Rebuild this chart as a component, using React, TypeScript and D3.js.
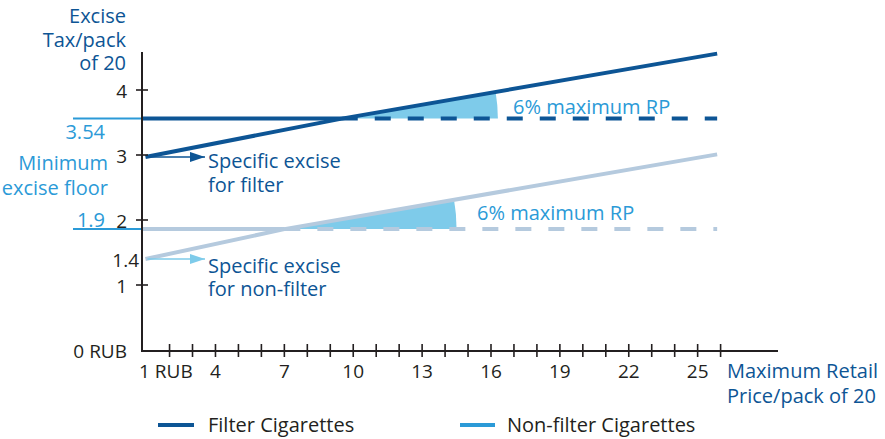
import React from 'react';
import * as d3 from 'd3';

// valores
const filterPrice = [0.95, 9.5, 25.85]; // RUB
const filterExcise = [2.97, 3.56, 4.56];
const nonFilterPrice = [0.95, 7.0, 25.85];
const nonFilterExcise = [1.4, 1.86, 3.01];
const floorValues = [3.56, 1.86];
const floorLabels = ['3.54', '1.9'];
const wedgeReach = [16.3, 14.5]; // onde termina o arco de 6%
const yTicks = [1, 2, 3, 4];
const xTicks = d3.range(2, 27);
const xLabels = [4, 7, 10, 13, 16, 19, 22, 25];

const DARK = '#0d5595';
const PALE = '#b5cade';
const ACCENT = '#2b9ad7';
const WEDGE = '#7ecbea';
const INK = '#231f20';
const FONT = '"Open Sans", sans-serif';

export default function App() {
  const width = 885;
  const height = 439;

  const x = d3.scaleLinear().domain([0.8, 28.5]).range([142, 778]);
  const y = d3.scaleLinear().domain([0, 4.6]).range([350, 51]);
  const x0 = x(0.8);
  const y0 = y(0);

  const series = [
    { price: filterPrice, values: filterExcise, color: DARK, floor: floorValues[0], reach: wedgeReach[0], arrow: DARK },
    { price: nonFilterPrice, values: nonFilterExcise, color: PALE, floor: floorValues[1], reach: wedgeReach[1], arrow: WEDGE },
  ];

  return (
    <svg width={width} height={height} style={{ position: 'absolute', left: 0, top: 0 }} fontFamily={FONT}>
      <defs>
        <marker id="headDark" viewBox="0 0 15 10" refX={15} refY={5} markerWidth={15} markerHeight={10} markerUnits="userSpaceOnUse" orient="auto">
          <path d="M0,0L15,5L0,10Z" fill={DARK} />
        </marker>
        <marker id="headLight" viewBox="0 0 15 10" refX={15} refY={5} markerWidth={15} markerHeight={10} markerUnits="userSpaceOnUse" orient="auto">
          <path d="M0,0L15,5L0,10Z" fill={WEDGE} />
        </marker>
      </defs>

      {series.map((s, i) => {
        const line = d3
          .line<number>()
          .x((_, k) => x(s.price[k]))
          .y((d) => y(d));
        // segmento onde a linha cruza o piso
        let k = 0;
        while (k < s.values.length - 2 && s.values[k + 1] < s.floor) k++;
        const t = (s.floor - s.values[k]) / (s.values[k + 1] - s.values[k]);
        const crossX = s.price[k] + t * (s.price[k + 1] - s.price[k]);
        const cx = x(crossX);
        const cy = y(s.floor);
        const last = s.values.length - 1;
        const theta = Math.atan2(cy - y(s.values[last]), x(s.price[last]) - cx);
        const r = x(s.reach) - cx;
        const arc = d3.arc()({ innerRadius: 0, outerRadius: r, startAngle: Math.PI / 2 - theta, endAngle: Math.PI / 2 } as any);
        const endX = x(s.price[last]);
        return (
          <g key={i}>
            <path d={arc || ''} transform={`translate(${cx},${cy})`} fill={WEDGE} />
            <line x1={73} x2={x0} y1={cy} y2={cy} stroke={ACCENT} strokeWidth={2} />
            <line x1={x0} x2={cx} y1={cy} y2={cy} stroke={s.color} strokeWidth={4} />
            <line x1={cx} x2={endX} y1={cy} y2={cy} stroke={s.color} strokeWidth={4} strokeDasharray="16 17" />
            <path d={line(s.values) || ''} fill="none" stroke={s.color} strokeWidth={4} />
            <line x1={x(s.price[0]) + 2} x2={205} y1={y(s.values[0])} y2={y(s.values[0])} stroke={s.arrow} strokeWidth={1.5} markerEnd={`url(#${i === 0 ? 'headDark' : 'headLight'})`} />
          </g>
        );
      })}

      {/* eixos */}
      <line x1={x0} x2={x0} y1={52} y2={y0 + 1} stroke={INK} strokeWidth={2} />
      <line x1={x0 - 1} x2={778} y1={y0 + 1} y2={y0 + 1} stroke={INK} strokeWidth={2} />
      {yTicks.map((t) => (
        <line key={t} x1={x0 - 6} x2={x0 + 6} y1={y(t)} y2={y(t)} stroke={INK} strokeWidth={1.6} />
      ))}
      {xTicks.map((t) => (
        <line key={t} x1={x(t)} x2={x(t)} y1={y0 - 6} y2={y0 + 7} stroke={INK} strokeWidth={1.6} />
      ))}

      <g fill={INK} fontSize={19}>
        {yTicks.map((t) => (
          <text key={t} x={127} y={y(t)} dy="0.4em" textAnchor="end">{t}</text>
        ))}
        <text x={139} y={y(nonFilterExcise[0])} dy="0.4em" textAnchor="end">{nonFilterExcise[0]}</text>
        <text x={127} y={y0} dy="0.4em" textAnchor="end">0 RUB</text>
        <text x={x0 - 3} y={378}>1 RUB</text>
        {xLabels.map((t) => (
          <text key={t} x={x(t)} y={378} textAnchor="middle">{t}</text>
        ))}
      </g>

      {/* titulos dos eixos e notas */}
      <g fill={DARK} fontSize={20}>
        <text x={126} y={23} textAnchor="end">Excise</text>
        <text x={126} y={47} textAnchor="end">Tax/pack</text>
        <text x={126} y={70} textAnchor="end">of 20</text>
        <text x={727} y={378}>Maximum Retail</text>
        <text x={727} y={403}>Price/pack of 20</text>
        <text x={208} y={168}>Specific excise</text>
        <text x={208} y={192}>for filter</text>
        <text x={208} y={273}>Specific excise</text>
        <text x={208} y={296}>for non-filter</text>
      </g>

      <g fill={ACCENT} fontSize={20}>
        <text x={105} y={139} textAnchor="end">{floorLabels[0]}</text>
        <text x={108} y={170} textAnchor="end">Minimum</text>
        <text x={108} y={195} textAnchor="end">excise floor</text>
        <text x={105} y={227} textAnchor="end">{floorLabels[1]}</text>
        <text x={513} y={114}>6% maximum RP</text>
        <text x={477} y={220}>6% maximum RP</text>
      </g>

      {/* legenda */}
      <line x1={158} x2={194} y1={425} y2={425} stroke={DARK} strokeWidth={4} />
      <text x={208} y={432} fontSize={20} fill={INK}>Filter Cigarettes</text>
      <line x1={460} x2={495} y1={425} y2={425} stroke={ACCENT} strokeWidth={4} />
      <text x={507} y={432} fontSize={20} fill={INK}>Non-filter Cigarettes</text>
    </svg>
  );
}
